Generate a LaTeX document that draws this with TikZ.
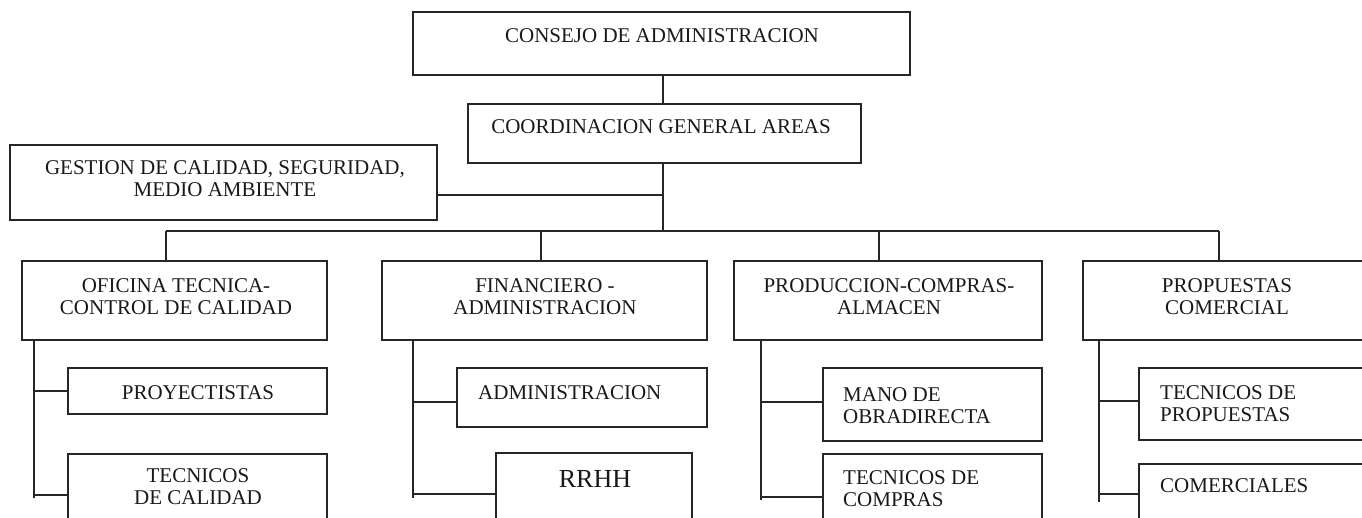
\documentclass[tikz,border=0pt]{standalone}
\usepackage{fontspec}
\setmainfont{Liberation Serif}
\usetikzlibrary{fit}
\begin{document}
\begin{tikzpicture}[x=1pt,y=-1pt,
  box/.style={draw=black!85, line width=1.3pt, inner sep=0pt, fit={#1}},
  txt/.style={font=\fontsize{21}{22.5}\selectfont, inner sep=0pt, align=center, anchor=north, text=black!90},
  ltxt/.style={font=\fontsize{21}{22.5}\selectfont, inner sep=0pt, align=left, anchor=north west, text=black!90},
  link/.style={draw=black!85, line width=1.3pt}]
\useasboundingbox (0,0) rectangle (1362,517);
% top level
\node[box={(413,12) (910,75)}] (consejo) {};
\node[txt] (consejoT) at (662,28) {CONSEJO DE ADMINISTRACION};
\node[box={(468,104) (861,163)}] (coord) {};
\node[txt] (coordT) at (661,119) {COORDINACION GENERAL AREAS};
\node[box={(10,145) (437,220)}] (gestion) {};
\node[txt] (gestionT) at (225,160) {GESTION DE CALIDAD, SEGURIDAD,\\MEDIO AMBIENTE};
% level 2
\node[box={(22,261) (327,340)}] (ofi) {};
\node[txt] (ofiT) at (176,278) {OFICINA TECNICA-\\CONTROL DE CALIDAD};
\node[box={(382,261) (707,340)}] (fin) {};
\node[txt] (finT) at (545,278) {FINANCIERO -\\ADMINISTRACION};
\node[box={(734,261) (1042,340)}] (prod) {};
\node[txt] (prodT) at (889,278) {PRODUCCION-COMPRAS-\\ALMACEN};
\node[box={(1083,261) (1372,340)}] (prop) {};
\node[txt] (propT) at (1227,278) {PROPUESTAS\\COMERCIAL};
% children col 1
\node[box={(68,368) (327,414)}] (proy) {};
\node[txt] (proyT) at (198,385) {PROYECTISTAS};
\node[box={(68,454) (327,540)}] (tcal) {};
\node[txt] (tcalT) at (198,468) {TECNICOS\\DE CALIDAD};
% children col 2
\node[box={(457,368) (707,427)}] (adm) {};
\node[ltxt] (admT) at (478,385) {ADMINISTRACION};
\node[box={(496,453) (692,540)}] (rrhh) {};
\node[txt, font=\fontsize{26}{28}\selectfont] (rrhhT) at (595,470) {RRHH};
% children col 3
\node[box={(823,368) (1042,441)}] (mano) {};
\node[ltxt] (manoT) at (843,387) {MANO DE\\OBRADIRECTA};
\node[box={(823,454) (1042,540)}] (tcom) {};
\node[ltxt] (tcomT) at (843,470) {TECNICOS DE\\COMPRAS};
% children col 4
\node[box={(1139,368) (1372,440)}] (tprop) {};
\node[ltxt] (tpropT) at (1160,385) {TECNICOS DE\\PROPUESTAS};
\node[box={(1139,464) (1372,540)}] (comer) {};
\node[ltxt] (comerT) at (1160,478) {COMERCIALES};
% junction coordinates
\coordinate (jg) at (663,195);
\coordinate (jb) at (663,231);
\coordinate (b1) at (166,231);
\coordinate (b2) at (541,231);
\coordinate (b3) at (879,231);
\coordinate (b4) at (1219,231);
% connectors top
\draw[link] (jb |- consejo.south) -- (jb |- coord.north);
\draw[link] (jb |- coord.south) -- (jb);
\draw[link] (gestion.east |- jg) -- (jg);
\draw[link] (b1) -- (b4);
\draw[link] (b1) -- (b1 |- ofi.north);
\draw[link] (b2) -- (b2 |- fin.north);
\draw[link] (b3) -- (b3 |- prod.north);
\draw[link] (b4) -- (b4 |- prop.north);
% child trunks
\coordinate (t1) at (34,340);
\coordinate (t1e) at (34,498);
\coordinate (t2) at (413,340);
\coordinate (t2e) at (413,498);
\coordinate (t3) at (761,340);
\coordinate (t3e) at (761,500);
\coordinate (t4) at (1099,340);
\coordinate (t4e) at (1099,502);
\draw[link] (t1) -- (t1e);
\draw[link] (t2) -- (t2e);
\draw[link] (t3) -- (t3e);
\draw[link] (t4) -- (t4e);
\draw[link] (t1 |- 0,391) -- (proy.west |- 0,391);
\draw[link] (t1 |- 0,495) -- (tcal.west |- 0,495);
\draw[link] (t2 |- 0,402) -- (adm.west |- 0,402);
\draw[link] (t2 |- 0,494) -- (rrhh.west |- 0,494);
\draw[link] (t3 |- 0,402) -- (mano.west |- 0,402);
\draw[link] (t3 |- 0,497) -- (tcom.west |- 0,497);
\draw[link] (t4 |- 0,401) -- (tprop.west |- 0,401);
\draw[link] (t4 |- 0,494) -- (comer.west |- 0,494);
\end{tikzpicture}
\end{document}
